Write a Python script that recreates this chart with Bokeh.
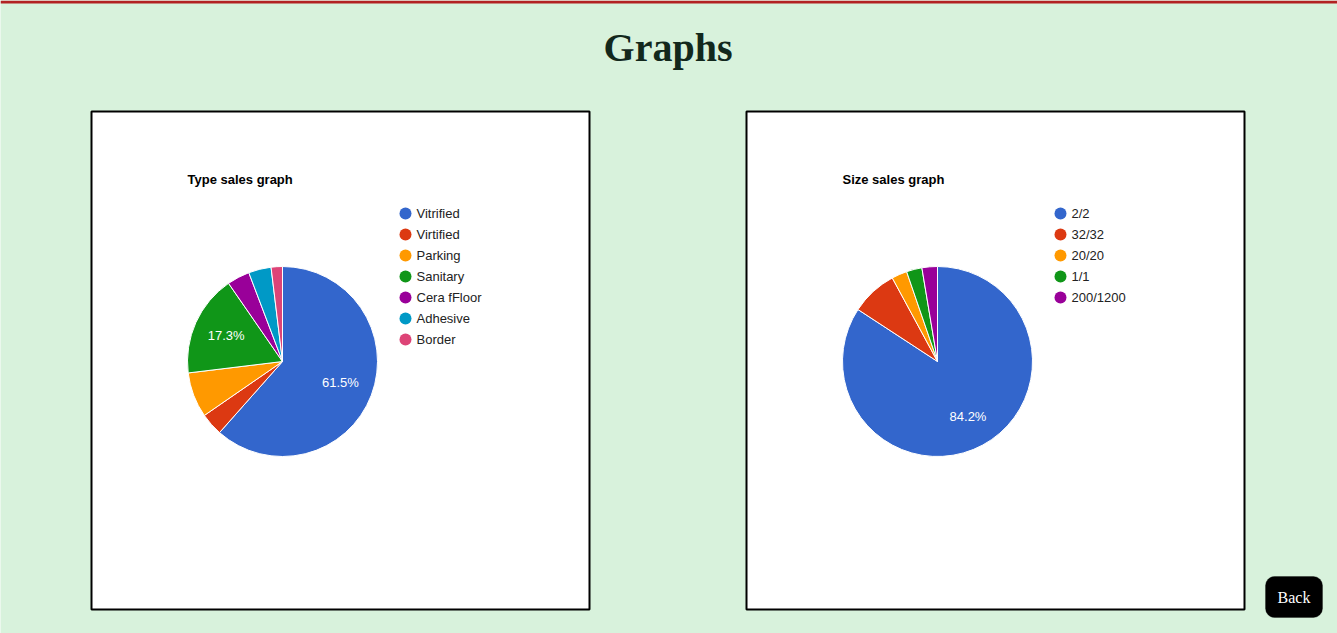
import math
from bokeh.plotting import figure
from bokeh.models import Range1d, BoxAnnotation, ColumnDataSource, Label
from bokeh.core.properties import value
from bokeh.embed import file_html
from bokeh.resources import INLINE

# ---------------- data ----------------
type_labels = ["Vitrified", "Virtified", "Parking", "Sanitary", "Cera fFloor", "Adhesive", "Border"]
type_values = [32, 2, 4, 9, 2, 2, 1]

size_labels = ["2/2", "32/32", "20/20", "1/1", "200/1200"]
size_values = [32, 3, 1, 1, 1]

palette = ["#3366cc", "#dc3912", "#ff9900", "#109618", "#990099", "#0099c6", "#dd4477"]

W, H = 1337, 633
BG = "#d8f2dc"
SANS = value("Liberation Sans")
SERIF = value("Liberation Serif")


def Y(py):
    return H - py


p = figure(width=W, height=H, x_range=Range1d(0, W), y_range=Range1d(0, H),
           output_backend="svg", toolbar_location=None, min_border=0)
p.axis.visible = False
p.grid.visible = False
p.outline_line_color = None
p.background_fill_color = BG
p.border_fill_color = BG

# top red bar
p.quad(left=[0], right=[W], top=[Y(0)], bottom=[Y(3)], fill_color="#b22222", line_color=None)

# page heading
p.text(x=[W / 2 - 1], y=[Y(47)], text=["Graphs"], text_font=SERIF, text_font_size="40px",
       text_font_style="bold", text_color="#12281c", text_align="center", text_baseline="middle")


def draw_chart(ox, oy, title, labels, values):
    # card
    p.quad(left=[ox + 1], right=[ox + 499], top=[Y(oy + 1)], bottom=[Y(oy + 499)],
           fill_color="white", line_color="black", line_width=2)
    # chart title
    p.text(x=[ox + 97], y=[Y(oy + 69)], text=[title], text_font=SANS, text_font_size="13px",
           text_font_style="bold", text_color="#000000", text_align="left", text_baseline="middle")
    total = float(sum(values))
    cx, cy, r = ox + 192, Y(oy + 251), 95
    starts, ends, lx, ly, ltxt = [], [], [], [], []
    cum = 0.0
    for v in values:
        f0 = cum / total
        cum += v
        f1 = cum / total
        starts.append(math.pi / 2 - 2 * math.pi * f0)
        ends.append(math.pi / 2 - 2 * math.pi * f1)
        frac = v / total
        if frac >= 0.10:
            mid = math.pi / 2 - 2 * math.pi * (f0 + f1) / 2
            k = 0.65 + 0.1 * max(0.0, frac - 0.6)
            lx.append(cx + k * r * math.cos(mid))
            ly.append(cy + k * r * math.sin(mid) + 1)
            ltxt.append("%.1f%%" % (frac * 100))
    src = ColumnDataSource(dict(start=starts, end=ends, color=palette[:len(values)]))
    p.wedge(x=cx, y=cy, radius=r, start_angle="start", end_angle="end", direction="clock",
            fill_color="color", line_color="white", line_width=1, source=src)
    p.text(x=lx, y=ly, text=ltxt, text_font=SANS, text_font_size="13px", text_color="white",
           text_align="center", text_baseline="middle")
    # legend
    n = len(labels)
    ys = [Y(oy + 103 + 21 * i) for i in range(n)]
    p.scatter(x=[ox + 315] * n, y=ys, size=12, marker="circle",
              fill_color=palette[:n], line_color=None)
    p.text(x=[ox + 326] * n, y=ys, text=labels, text_font=SANS, text_font_size="13px",
           text_color="#222222", text_align="left", text_baseline="middle")


draw_chart(90, 110, "Type sales graph", type_labels, type_values)
draw_chart(745, 110, "Size sales graph", size_labels, size_values)

# Back button
p.add_layout(BoxAnnotation(left=1265, right=1322, top=Y(576), bottom=Y(617),
                           fill_color="black", fill_alpha=1.0, line_color="black",
                           border_radius=9))
p.add_layout(Label(x=1293.5, y=Y(597), text="Back", text_font="Liberation Serif",
                   text_font_size="16px", text_color="white", text_align="center",
                   text_baseline="middle"))

open("out.html", "w").write(file_html(p, INLINE))
